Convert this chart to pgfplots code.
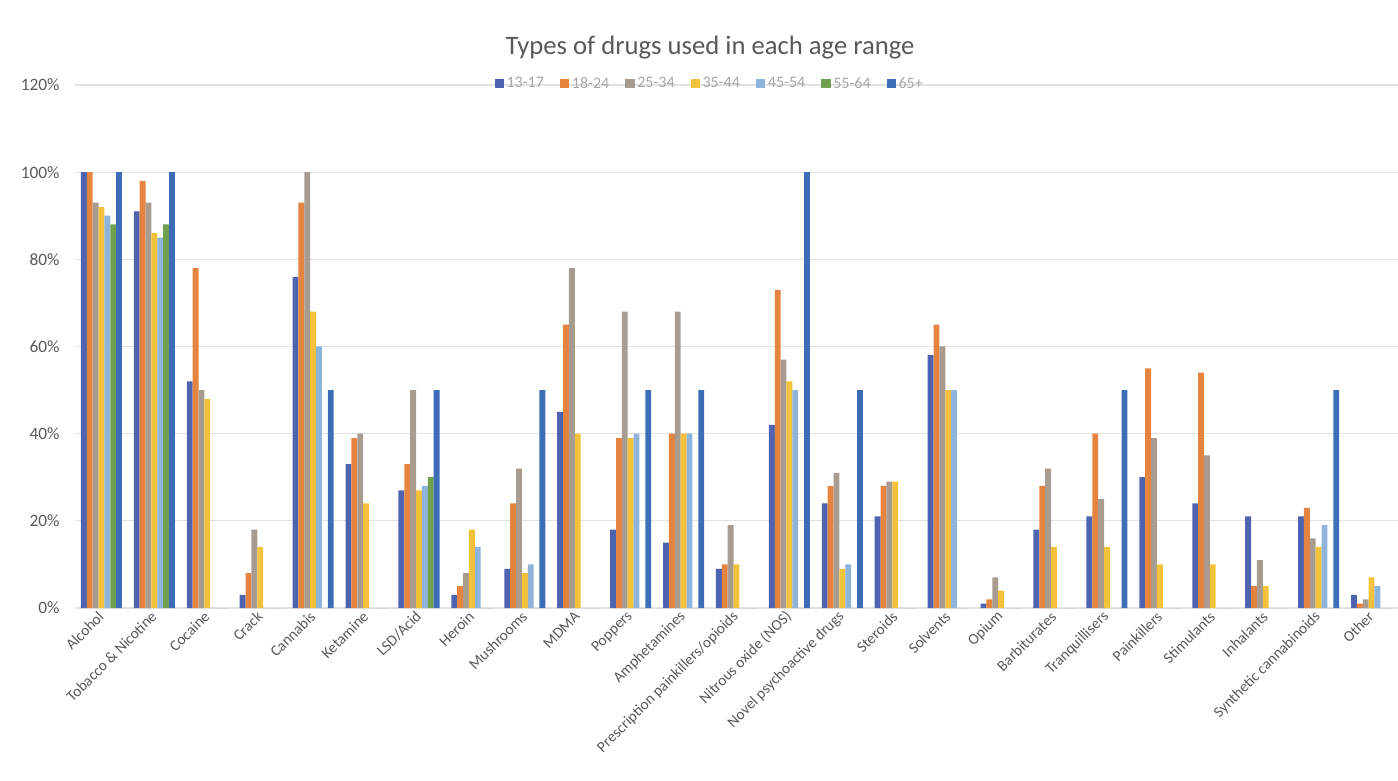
\documentclass[border=0pt]{standalone}
\usepackage{pgfplots}
\pgfplotsset{compat=1.18}
\usepackage{pgfplotstable}
\usepackage{fontspec}
\setmainfont{Carlito}

\definecolor{c1}{HTML}{4F64B0}
\definecolor{c2}{HTML}{E5843F}
\definecolor{c3}{HTML}{A89C90}
\definecolor{c4}{HTML}{F4C23A}
\definecolor{c5}{HTML}{8FB4DC}
\definecolor{c6}{HTML}{6FA04E}
\definecolor{c7}{HTML}{3E6DB8}
\definecolor{tickgray}{HTML}{595959}
\definecolor{gridgray}{HTML}{E2E2E2}

% share of each age group using each drug (%)
\pgfplotstableread{
x  s1  s2  s3  s4  s5  s6  s7
0  100 100 93  92  90  88  100
1  91  98  93  86  85  88  100
2  52  78  50  48  0   0   0
3  3   8   18  14  0   0   0
4  76  93  100 68  60  0   50
5  33  39  40  24  0   0   0
6  27  33  50  27  28  30  50
7  3   5   8   18  14  0   0
8  9   24  32  8   10  0   50
9  45  65  78  40  0   0   0
10 18  39  68  39  40  0   50
11 15  40  68  40  40  0   50
12 9   10  19  10  0   0   0
13 42  73  57  52  50  0   100
14 24  28  31  9   10  0   50
15 21  28  29  29  0   0   0
16 58  65  60  50  50  0   0
17 1   2   7   4   0   0   0
18 18  28  32  14  0   0   0
19 21  40  25  14  0   0   50
20 30  55  39  10  0   0   0
21 24  54  35  10  0   0   0
22 21  5   11  5   0   0   0
23 21  23  16  14  19  0   50
24 3   1   2   7   5   0   0
}\drugs

\begin{document}
\begin{tikzpicture}
\useasboundingbox (-56.25pt,-129.75pt) rectangle (992.25pt,456pt);
\begin{axis}[
  at={(0pt,0pt)}, anchor=south west,
  scale only axis,
  width=992.25pt, height=392.25pt,
  ybar=0pt, bar width=4.4pt,
  xmin=-0.5, xmax=24.5, ymin=0, ymax=120,
  enlargelimits=false,
  xtick={0,...,24},
  xticklabels={Alcohol, Tobacco \& Nicotine, Cocaine, Crack, Cannabis, Ketamine,
    LSD/Acid, Heroin, Mushrooms, MDMA, Poppers, Amphetamines,
    Prescription painkillers/opioids, Nitrous oxide (NOS), Novel psychoactive drugs,
    Steroids, Solvents, Opium, Barbiturates, Tranquillisers, Painkillers,
    Stimulants, Inhalants, Synthetic cannabinoids, Other},
  ytick={0,20,...,120},
  /pgf/number format/assume math mode=true,
  yticklabel={\pgfmathprintnumber{\tick}\%},
  major tick length=0pt,
  axis line style={draw=none},
  ymajorgrids,
  grid style={draw=gridgray, line width=0.9pt},
  x tick label style={rotate=45, anchor=east, font=\fontsize{11.5}{13}\selectfont, text=tickgray, yshift=-3pt},
  y tick label style={font=\fontsize{13}{15}\selectfont, text=tickgray, xshift=-8pt},
  title={Types of drugs used in each age range},
  title style={at={(0.48,1)}, anchor=center, yshift=22pt, font=\fontsize{20}{24}\selectfont, text=tickgray},
  legend style={at={(0.48,1)}, anchor=center, yshift=1pt, draw=none, fill=none,
    legend columns=-1, font=\fontsize{12}{14}\selectfont, text=gray!70,
    /tikz/every even column/.append style={column sep=10pt}},
  legend image code/.code={\fill[#1] (0pt,-3.5pt) rectangle (7pt,3.5pt);},
]
\addplot[fill=c1, draw=none] table[x=x, y=s1]{\drugs};
\addplot[fill=c2, draw=none] table[x=x, y=s2]{\drugs};
\addplot[fill=c3, draw=none] table[x=x, y=s3]{\drugs};
\addplot[fill=c4, draw=none] table[x=x, y=s4]{\drugs};
\addplot[fill=c5, draw=none] table[x=x, y=s5]{\drugs};
\addplot[fill=c6, draw=none] table[x=x, y=s6]{\drugs};
\addplot[fill=c7, draw=none] table[x=x, y=s7]{\drugs};
\legend{13-17, 18-24, 25-34, 35-44, 45-54, 55-64, 65+}
\end{axis}
\end{tikzpicture}
\end{document}
